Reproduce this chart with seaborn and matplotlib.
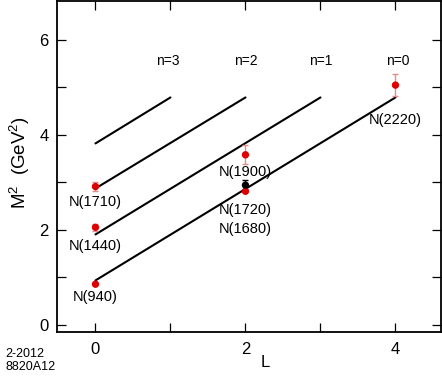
import pandas as pd
import matplotlib
matplotlib.use("Agg")
import matplotlib.pyplot as plt
import seaborn as sns

# Regge trajectories (straight lines)
TRAJ_N = ['n=0', 'n=1', 'n=2', 'n=3']
TRAJ_L_START = [0, 0, 0, 0]
TRAJ_L_END = [4, 3, 2, 1]
TRAJ_M2_START = [0.93, 1.90, 2.87, 3.82]
TRAJ_M2_END = [4.79, 4.79, 4.79, 4.79]

# measured nucleon states (red)
STATE_NAMES = ['N(940)', 'N(1440)', 'N(1710)', 'N(1720)', 'N(1900)', 'N(2220)']
STATE_L = [0, 0, 0, 2, 2, 4]
STATE_M2 = [0.85, 2.05, 2.91, 2.81, 3.58, 5.05]
STATE_ERR = [0.0, 0.08, 0.10, 0.0, 0.20, 0.23]

# N(1680) (black)
BLACK_NAME = 'N(1680)'
BLACK_L = [2]
BLACK_M2 = [2.94]
BLACK_ERR = [0.10]

# label placement (data coords)
STATE_LABEL_Y = [0.58, 1.65, 2.58, 2.42, 3.22, 4.31]
BLACK_LABEL_Y = 2.01
N_LABEL_X = [4.03, 3.0, 2.0, 0.97]
N_LABEL_Y = 5.56

RED = '#dd0000'
ERR_RED = '#e98a8a'


def main():
    sns.set_theme(style="ticks")
    plt.rcParams['font.family'] = ['Liberation Sans', 'DejaVu Sans']
    plt.rcParams['mathtext.fontset'] = 'custom'
    plt.rcParams['mathtext.rm'] = 'Liberation Sans'
    plt.rcParams['mathtext.it'] = 'Liberation Sans'
    for k in ['text.color', 'axes.labelcolor', 'xtick.color', 'ytick.color',
              'axes.edgecolor']:
        plt.rcParams[k] = 'black'

    df_lines = pd.DataFrame({
        'n': TRAJ_N * 2,
        'L': TRAJ_L_START + TRAJ_L_END,
        'M2': TRAJ_M2_START + TRAJ_M2_END,
    })
    df_states = pd.DataFrame({'name': STATE_NAMES, 'L': STATE_L,
                              'M2': STATE_M2, 'err': STATE_ERR})

    fig = plt.figure(figsize=(4.42, 3.77), dpi=100)
    ax = fig.add_axes([57 / 442, 45 / 377, 384 / 442, 331.5 / 377])

    sns.lineplot(data=df_lines, x='L', y='M2', hue='n', units='n',
                 estimator=None, palette=['black'] * 4, linewidth=1.5,
                 legend=False, ax=ax)

    # error bars
    e = df_states[df_states['err'] > 0]
    ax.errorbar(e['L'], e['M2'], yerr=e['err'], fmt='none', ecolor=ERR_RED,
                elinewidth=1.0, capsize=2, capthick=1.0, zorder=3)
    ax.errorbar(BLACK_L, BLACK_M2, yerr=BLACK_ERR, fmt='none', ecolor='black',
                elinewidth=1.0, capsize=2, capthick=1.0, zorder=3)

    sns.scatterplot(data=df_states, x='L', y='M2', color=RED, s=28,
                    edgecolor='none', zorder=4, ax=ax)
    sns.scatterplot(x=BLACK_L, y=BLACK_M2, color='black', s=28,
                    edgecolor='none', zorder=5, ax=ax)

    for name, L, ly in zip(STATE_NAMES, STATE_L, STATE_LABEL_Y):
        ax.text(L, ly, name, ha='center', va='center', fontsize=10.5)
    ax.text(BLACK_L[0], BLACK_LABEL_Y, BLACK_NAME, ha='center', va='center',
            fontsize=10.5)
    for n, x in zip(TRAJ_N, N_LABEL_X):
        ax.text(x, N_LABEL_Y, n, ha='center', va='center', fontsize=10)

    ax.set_xlim(-0.513, 4.607)
    ax.set_ylim(-0.158, 6.835)
    ax.set_xticks([0, 2, 4])
    ax.set_xticks([1, 3], minor=True)
    ax.set_yticks([0, 2, 4, 6])
    ax.set_yticks([1, 3, 5], minor=True)
    ax.tick_params(which='both', direction='in', length=6.5, width=0.9,
                   top=True, right=True, labelsize=12, color='black')
    ax.tick_params(axis='y', pad=6)
    ax.tick_params(axis='x', pad=7)

    for sp in ax.spines.values():
        sp.set_visible(True)
        sp.set_linewidth(1.3)
        sp.set_color('black')

    ax.set_xlabel('L', fontsize=12)
    ax.set_ylabel(r'M$^{\mathregular{2}}$  (GeV$^{\mathregular{2}}$)', fontsize=13.5)
    ax.xaxis.set_label_coords(0.542, -0.07)
    ax.yaxis.set_label_coords(-0.066, 0.51)

    fig.text(5 / 442, 1 - 357 / 377, '2-2012', fontsize=9, va='baseline')
    fig.text(5 / 442, 1 - 370 / 377, '8820A12', fontsize=9, va='baseline')

    fig.savefig('out.png', dpi=100)
    plt.close(fig)


if __name__ == "__main__":
    main()
